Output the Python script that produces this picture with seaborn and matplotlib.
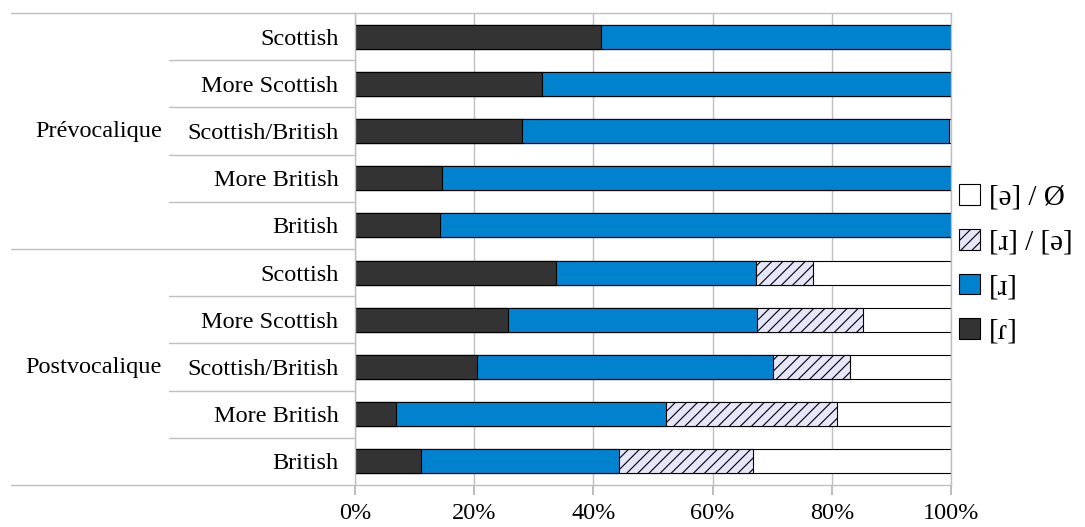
import numpy as np
import pandas as pd
import seaborn as sns
import matplotlib.pyplot as plt
from matplotlib.patches import Patch

# categories (top to bottom)
groups = ["Prévocalique", "Postvocalique"]
identities = ["Scottish", "More Scottish", "Scottish/British", "More British", "British"]

# shares in %, per group, same order as identities
tap = [41.3, 31.3, 28.1, 14.6, 14.3,
       33.7, 25.7, 20.5, 6.8, 11.1]
approx = [58.7, 68.7, 71.6, 85.4, 85.7,
          33.5, 41.8, 49.6, 45.3, 33.2]
approx_schwa = [0, 0, 0, 0, 0,
                9.6, 17.7, 13.0, 28.8, 22.4]
schwa_zero = [0, 0, 0.3, 0, 0,
              23.2, 14.8, 16.9, 19.1, 33.3]

legend_labels = ["[ə] / Ø", "[ɹ] / [ə]", "[ɹ]", "[ɾ]"]
tick_vals = [0, 20, 40, 60, 80, 100]

dark = "#333333"
blue = "#0082CE"
lav = "#E6E6FA"
grey = "#BFBFBF"

sns.set_style("white")
plt.rcParams["font.family"] = ["Liberation Serif", "DejaVu Serif"]
plt.rcParams["hatch.linewidth"] = 0.8
plt.rcParams["text.color"] = "black"
plt.rcParams["xtick.labelcolor"] = "black"
plt.rcParams["ytick.labelcolor"] = "black"
plt.rcParams["xtick.bottom"] = True
plt.rcParams["xtick.major.size"] = 7

rows = [g + "|" + c for g in groups for c in identities]
df = pd.DataFrame({"row": rows, "tap": tap, "approx": approx,
                   "approx_schwa": approx_schwa, "schwa_zero": schwa_zero})
df["c1"] = df["tap"]
df["c2"] = df["c1"] + df["approx"]
df["c3"] = df["c2"] + df["approx_schwa"]
df["c4"] = df["c3"] + df["schwa_zero"]

fig = plt.figure(figsize=(10.85, 5.27), dpi=100)
ax = fig.add_axes([0.3272, 0.0797, 0.5493, 0.8956])

# stacked by overlaying cumulative totals, widest first
layers = [("c4", "white"), ("c3", lav), ("c2", blue), ("c1", dark)]
for col, colr in layers:
    n0 = len(ax.patches)
    sns.barplot(data=df, x=col, y="row", orient="h", color=colr, saturation=1,
                edgecolor="black", linewidth=0.8, width=0.51, ax=ax)
    if col == "c3":
        for p in ax.patches[n0:]:
            p.set_hatch("///")

ax.set_xlim(0, 100)
ax.set_ylim(9.5, -0.5)
ax.set_xlabel("")
ax.set_ylabel("")
ax.set_xticks(tick_vals)
ax.set_xticklabels([f"{v}%" for v in tick_vals], fontsize=17.5)
ax.set_yticks(range(len(rows)))
ax.set_yticklabels(identities * 2, fontsize=17.5)
ax.tick_params(axis="y", length=0, pad=12)
ax.tick_params(axis="x", which="major", bottom=True, direction="out",
               length=7, width=1.2, color="#B0B0B0", pad=6)
ax.xaxis.grid(True, color=grey, linewidth=1)
ax.set_axisbelow(True)
for s in ax.spines.values():
    s.set_color(grey)
    s.set_linewidth(1)

# separators on the category axis
tr = ax.get_yaxis_transform()
for i in range(len(rows) + 1):
    y = i - 0.5
    x0 = -0.577 if i % 5 == 0 else -0.312
    ax.plot([x0, 0], [y, y], color=grey, linewidth=1, transform=tr, clip_on=False)

for k, g in enumerate(groups):
    ax.text(-0.324, 2 + 5 * k, g, transform=tr, ha="right", va="center", fontsize=17.5)

handles = [Patch(facecolor="white", edgecolor="black", linewidth=0.8),
           Patch(facecolor=lav, edgecolor="black", linewidth=0.8, hatch="///"),
           Patch(facecolor=blue, edgecolor="black", linewidth=0.8),
           Patch(facecolor=dark, edgecolor="black", linewidth=0.8)]
fig.legend(handles, legend_labels, loc="center left", bbox_to_anchor=(0.884, 0.498),
           frameon=False, fontsize=21, handlelength=0.72, handleheight=0.72,
           handletextpad=0.3, labelspacing=0.62, borderpad=0, borderaxespad=0)

fig.savefig("out.png", dpi=100)
